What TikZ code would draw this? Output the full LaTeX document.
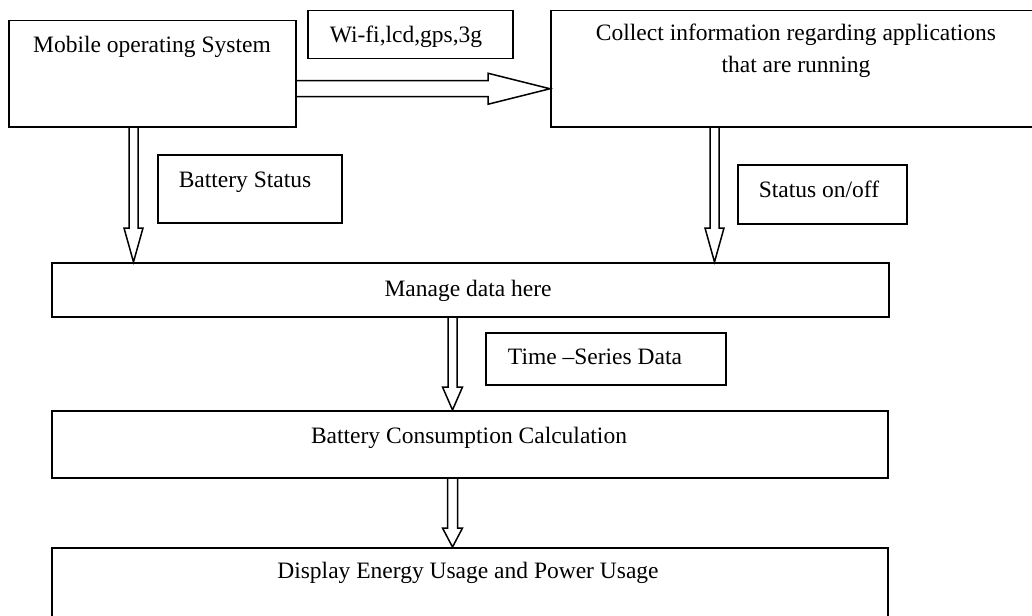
\documentclass[tikz,border=0pt]{standalone}
\usepackage{fontspec}
\setmainfont{Liberation Serif}
\usetikzlibrary{calc}
\tikzset{
  box/.style={draw, line width=1.5pt, rectangle, inner sep=0pt, anchor=north west},
  txt/.style={anchor=base, inner sep=0pt, font=\fontsize{23.5}{28}\selectfont},
  hollow/.style={draw, line width=1.5pt, line join=miter},
}
\newcommand{\boxat}[5]{\node[box, minimum width=#4pt, minimum height=#5pt] (#1) at (#2,#3) {};}
\newcommand{\hollowdown}[5]{%
  \draw[hollow] let \p1=(#1), \p2=(#2) in
    (\x1-#3pt,\y1) -- (\x1-#3pt,\y2+#5pt) -- (\x1-#4pt,\y2+#5pt) -- (\x1,\y2)
    -- (\x1+#4pt,\y2+#5pt) -- (\x1+#3pt,\y2+#5pt) -- (\x1+#3pt,\y1);}
\begin{document}
\begin{tikzpicture}[x=1pt,y=-1pt]
\useasboundingbox (0,0) rectangle (1032,615);
% boxes
\boxat{mos}{8}{20}{287}{106}
\boxat{wifi}{307}{10}{205}{48}
\boxat{col}{550}{10}{492}{116}
\boxat{bat}{157}{154}{184}{68}
\boxat{son}{737}{164}{169}{59}
\boxat{mdh}{51}{262}{837}{54}
\boxat{tsd}{485}{332}{240}{52}
\boxat{bcc}{51}{410}{836}{67}
\boxat{deu}{51}{547}{836}{80}
% texts
\node[txt] (tmos) at (152,53) {Mobile operating System};
\node[txt] (twifi) at (406,43) {Wi-fi,lcd,gps,3g};
\node[txt] (tcol1) at (796,41) {Collect information regarding applications};
\node[txt] (tcol2) at (796,73) {that are running};
\node[txt] (tbat) at (245,187) {Battery Status};
\node[txt] (tson) at (819,197) {Status on/off};
\node[txt] (tmdh) at (468,296) {Manage data here};
\node[txt] (ttsd) at (595,364) {Time –Series Data};
\node[txt] (tbcc) at (469,443) {Battery Consumption Calculation};
\node[txt] (tdeu) at (468,578) {Display Energy Usage and Power Usage};
% connector end points
\coordinate (h1s) at ([yshift=-15pt]mos.east);
\coordinate (h1e) at (col.west |- h1s);
\coordinate (a1s) at ([xshift=125.5pt]mos.south west);
\coordinate (a1e) at (a1s |- mdh.north);
\coordinate (a2s) at ([xshift=164.5pt]col.south west);
\coordinate (a2e) at (a2s |- mdh.north);
\coordinate (a3s) at ([xshift=401.5pt]mdh.south west);
\coordinate (a3e) at (a3s |- bcc.north);
\coordinate (a4s) at ([xshift=401.5pt]bcc.south west);
\coordinate (a4e) at (a4s |- deu.north);
% hollow arrows
\draw[hollow] let \p1=(h1s), \p2=(h1e) in
  (\x1,\y1+8pt) -- (\x2-62pt,\y1+8pt) -- (\x2-62pt,\y1+15.5pt) -- (\x2,\y1)
  -- (\x2-62pt,\y1-15.5pt) -- (\x2-62pt,\y1-8pt) -- (\x1,\y1-8pt);
\hollowdown{a1s}{a1e}{4.5}{9.5}{34}
\hollowdown{a2s}{a2e}{4.5}{9.5}{34}
\hollowdown{a3s}{a3e}{4.5}{10}{23}
\hollowdown{a4s}{a4e}{5}{10}{19}
\end{tikzpicture}
\end{document}
